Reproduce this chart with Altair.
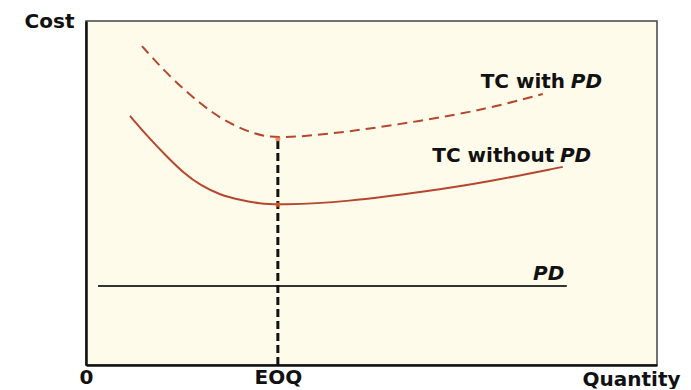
import altair as alt
import pandas as pd

# TC without PD (solid curve)
solid_q = [7.7, 11.2, 14.2, 17.3, 20.0, 23.5, 27.0, 30.5, 33.6, 45.7, 60.2, 70.2, 83.5]
solid_c = [72.4, 65.7, 60.5, 55.5, 52.3, 49.4, 48.0, 46.9, 46.5, 47.4, 50.6, 53.2, 57.6]

# TC with PD (dashed curve)
dashed_q = [9.8, 14.7, 20.0, 24.3, 29.2, 33.6, 45.7, 58.5, 70.2, 80.0]
dashed_c = [92.7, 83.7, 75.9, 70.9, 67.2, 65.7, 67.7, 70.9, 74.4, 78.8]

# PD line
pd_q = [2.1, 84.2]
pd_c = [23.0, 23.0]

eoq = 33.6
eoq_top = 65.7
eoq_bottom_curve = 46.6

label_main = ["TC with", "TC without"]
label_main_q = [84.6, 82.7]
label_main_c = [82.3, 60.8]
label_pd = ["PD", "PD", "PD"]
label_pd_q = [84.9, 83.0, 78.3]
label_pd_c = [82.3, 60.8, 26.5]

curve_color = "#B5472F"
FONT = "DejaVu Sans"
FS = 20

solid_df = pd.DataFrame({"q": solid_q, "c": solid_c})
dashed_df = pd.DataFrame({"q": dashed_q, "c": dashed_c})
pd_df = pd.DataFrame({"q": pd_q, "c": pd_c})
eoq_df = pd.DataFrame({"q": [eoq, eoq], "c": [0, eoq_top]})
min_df = pd.DataFrame({"q": [eoq, eoq], "c": [eoq_top, eoq_bottom_curve]})
main_df = pd.DataFrame({"t": label_main, "q": label_main_q, "c": label_main_c})
pdl_df = pd.DataFrame({"t": label_pd, "q": label_pd_q, "c": label_pd_c})

xscale = alt.Scale(domain=[0, 100], nice=False, zero=False)
yscale = alt.Scale(domain=[0, 100], nice=False, zero=False)

xaxis = alt.Axis(
    values=[0, eoq],
    labelExpr="datum.value == 0 ? '0' : 'EOQ'",
    labelFlush=False,
    labelFont=FONT, labelFontSize=FS, labelFontWeight="bold", labelColor="#111",
    labelPadding=2, ticks=False, tickSize=0, grid=False,
    domainColor="#111", domainWidth=2.5,
    title="Quantity", titleFont=FONT, titleFontSize=FS, titleFontWeight="bold",
    titleColor="#111", titleX=594, titleY=14, titleAlign="right",
    titleBaseline="middle", titleAnchor="end",
)
yaxis = alt.Axis(
    labels=False, ticks=False, tickSize=0, grid=False,
    domainColor="#111", domainWidth=2.5,
    title="Cost", titleFont=FONT, titleFontSize=FS, titleFontWeight="bold",
    titleColor="#111", titleX=-12, titleY=0, titleAngle=0, titleAlign="right",
    titleBaseline="middle",
)

X = alt.X("q:Q", scale=xscale, axis=xaxis)
Y = alt.Y("c:Q", scale=yscale, axis=yaxis)
Xn = alt.X("q:Q", scale=xscale)
Yn = alt.Y("c:Q", scale=yscale)

pd_line = alt.Chart(pd_df).mark_line(color="#333333", strokeWidth=2).encode(x=X, y=Y)
eoq_line = alt.Chart(eoq_df).mark_line(color="#111111", strokeWidth=3, strokeDash=[8, 4]).encode(x=Xn, y=Yn)
solid = alt.Chart(solid_df).mark_line(color=curve_color, strokeWidth=2, interpolate="basis").encode(x=Xn, y=Yn, order="q:Q")
dashed = alt.Chart(dashed_df).mark_line(color=curve_color, strokeWidth=2, strokeDash=[10, 6], interpolate="basis").encode(x=Xn, y=Yn, order="q:Q")
mins = alt.Chart(min_df).mark_point(filled=True, color="#E0602A", size=25, shape="circle").encode(x=Xn, y=Yn)
main_text = alt.Chart(main_df).mark_text(
    align="right", baseline="middle", dx=-4, font=FONT, fontSize=FS, fontWeight="bold", color="#111"
).encode(x=Xn, y=Yn, text="t:N")
pd_text = alt.Chart(pdl_df).mark_text(
    align="left", baseline="middle", font=FONT, fontSize=FS, fontWeight="bold", fontStyle="italic", color="#111"
).encode(x=Xn, y=Yn, text="t:N")

chart = alt.layer(pd_line, eoq_line, dashed, solid, mins, main_text, pd_text).properties(
    width=571, height=344,
    autosize=alt.AutoSizeParams(type="none"),
    padding={"left": 78, "top": 13, "right": 26, "bottom": 24},
    background="white",
).configure_view(
    fill="#FFFBEA", stroke="#444444", strokeWidth=1.5
)

chart.save("out.html", embed_options={"renderer": "svg", "actions": False})
